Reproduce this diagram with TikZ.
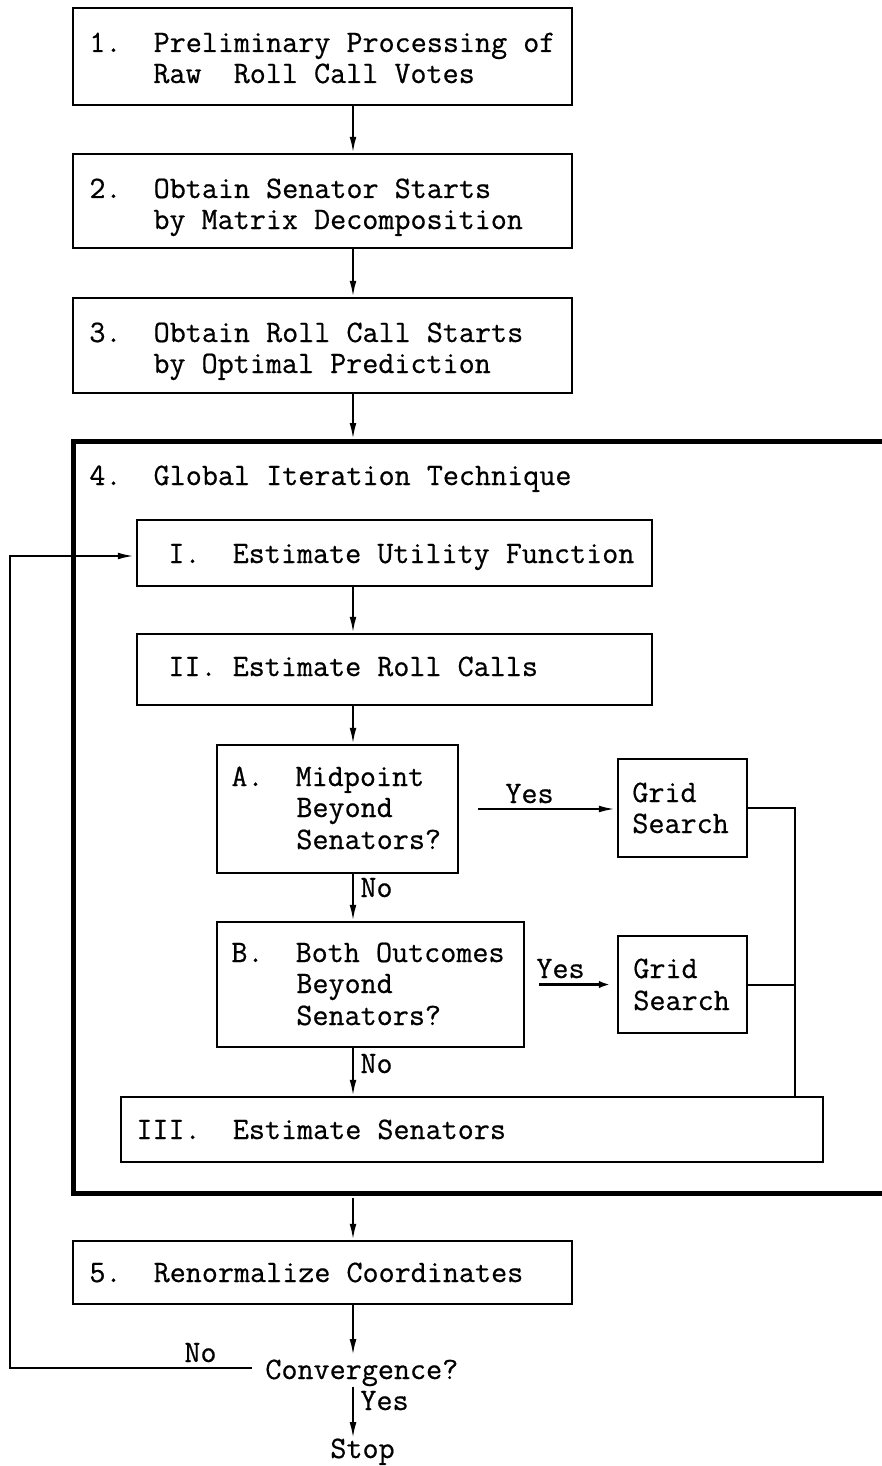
\documentclass[tikz,border=0pt]{standalone}
\usepackage{fontspec}
\setmonofont{Latin Modern Mono}[BoldFont={Latin Modern Mono},BoldFeatures={FakeBold=0.6}]
\usetikzlibrary{arrows.meta,fit}
\frenchspacing
\begin{document}
\begin{tikzpicture}[x=0.5pt,y=-0.5pt,
  box/.style={draw, line width=1.2pt, inner sep=0pt},
  frame/.style={line width=2.6pt},
  txt/.style={anchor=base west, inner sep=0pt, font=\ttfamily\bfseries\fontsize{15.6}{18}\selectfont},
  arr/.style={line width=1pt, -{Latex[length=8pt,width=3.4pt]}},
  ln/.style={line width=1pt}]
\useasboundingbox (0,0) rectangle (882,1466);
% boxes
\node[box, fit={(73,8)(572,105)}] (b1) {};
\node[box, fit={(73,154)(572,248)}] (b2) {};
\node[box, fit={(73,298)(572,393)}] (b3) {};
\node[inner sep=0pt, fit={(74,442)(892,1193)}] (b4) {};
\draw[frame] (b4.north east) -- (b4.north west) -- (b4.south west) -- (b4.south east);
\node[box, fit={(137,520)(652,586)}] (bI) {};
\node[box, fit={(137,634)(652,705)}] (bII) {};
\node[box, fit={(217,745)(458,873)}] (bA) {};
\node[box, fit={(618,759)(747,857)}] (g1) {};
\node[box, fit={(217,922)(524,1047)}] (bB) {};
\node[box, fit={(618,936)(747,1033)}] (g2) {};
\node[box, fit={(121,1097)(823,1162)}] (bIII) {};
\node[box, fit={(73,1241)(572,1304)}] (b5) {};
% texts
\node[txt] (t1a) at (89,52) {1.~~Preliminary Processing of};
\node[txt] (t1b) at (153,83) {Raw~~Roll Call Votes};
\node[txt] (t2a) at (89,198) {2.~~Obtain Senator Starts};
\node[txt] (t2b) at (153,229) {by Matrix Decomposition};
\node[txt] (t3a) at (89,342) {3.~~Obtain Roll Call Starts};
\node[txt] (t3b) at (153,373) {by Optimal Prediction};
\node[txt] (t4) at (89,485) {4.~~Global Iteration Technique};
\node[txt] (tI) at (168,563) {I.~~Estimate Utility Function};
\node[txt] (tII) at (168,676) {II.~Estimate Roll Calls};
\node[txt] (tAa) at (231,786) {A.~~Midpoint};
\node[txt] (tAb) at (296,817) {Beyond};
\node[txt] (tAc) at (296,849) {Senators?};
\node[txt] (g1a) at (632,802) {Grid};
\node[txt] (g1b) at (632,833) {Search};
\node[txt] (tBa) at (231,962) {B.~~Both Outcomes};
\node[txt] (tBb) at (296,993) {Beyond};
\node[txt] (tBc) at (296,1025) {Senators?};
\node[txt] (g2a) at (633,978) {Grid};
\node[txt] (g2b) at (633,1010) {Search};
\node[txt] (tIII) at (136,1139) {III.~~Estimate Senators};
\node[txt] (t5) at (89,1282) {5.~~Renormalize Coordinates};
\node[txt] (conv) at (265,1379) {Convergence?};
\node[txt] (stop) at (330,1458) {Stop};
% labels
\node[txt] (yes1) at (505,803) {Yes};
\node[txt] (yes2) at (536,978) {Yes};
\node[txt] (no1) at (360,897) {No};
\node[txt] (no2) at (360,1073) {No};
\node[txt] (no3) at (184,1362) {No};
\node[txt] (yes3) at (360,1410) {Yes};
% connectors
\coordinate (col) at (353,0);
\coordinate (vx) at (795,0);
\draw[arr] (b1.south -| col) -- (b2.north -| col);
\draw[arr] (b2.south -| col) -- (b3.north -| col);
\draw[arr, shorten >=1.3pt] (b3.south -| col) -- (b4.north -| col);
\draw[arr] (bI.south -| col) -- (bII.north -| col);
\draw[arr] (bII.south -| col) -- (bA.north -| col);
\draw[arr] (bA.south -| col) -- (bB.north -| col);
\draw[arr] (bB.south -| col) -- (bIII.north -| col);
\draw[arr] ([yshift=-2.5pt]b4.south -| col) -- (b5.north -| col);
\draw[arr] (b5.south -| col) -- ([yshift=2pt]conv.north -| col);
\draw[arr] (conv.south -| col) -- (stop.north -| col);
\draw[arr] ([xshift=9.5pt]bA.east) -- ([xshift=-1pt]g1.west |- bA.east);
\draw[arr, line width=1.8pt] ([xshift=7pt]bB.east) -- ([xshift=-1pt]g2.west |- bB.east);
\draw[ln] (g1.east) -- (g1.east -| vx) -- (bIII.north -| vx);
\draw[ln] (g2.east) -- (g2.east -| vx);
\coordinate (noend) at (252,1368);
\coordinate (fbc) at (10,1368);
\draw[arr] (noend) -- (fbc) |- ([xshift=-1pt,yshift=-1.5pt]bI.west);
\end{tikzpicture}
\end{document}
